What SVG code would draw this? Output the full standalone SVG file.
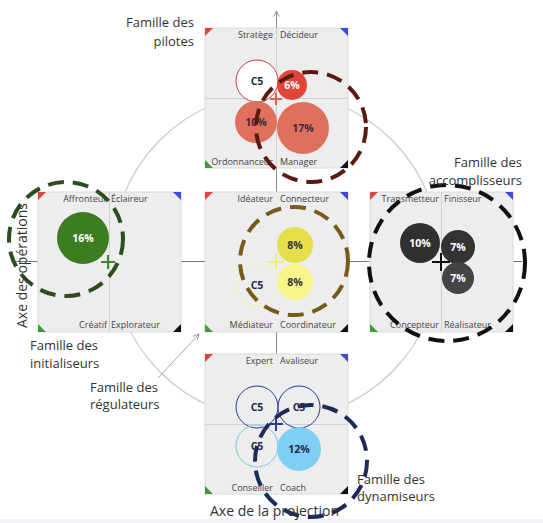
<svg xmlns="http://www.w3.org/2000/svg" width="543" height="523" viewBox="0 0 543 523">
<defs>
<style>
.pnl{fill:#ededed;stroke:#dadada;stroke-width:1}
.cl{stroke:#d0d0d0;stroke-width:1}
.lb{font-family:"Open Sans","Liberation Sans",sans-serif;font-size:9px;fill:#444}
.lr{text-anchor:end}
.fam{font-family:"Open Sans","Liberation Sans",sans-serif;font-size:13px;fill:#333}
.ax{font-family:"Open Sans","Liberation Sans",sans-serif;font-size:14px;fill:#333}
.pc{font-family:"Open Sans","Liberation Sans",sans-serif;font-size:10.5px;font-weight:bold;text-anchor:middle}
.dash{fill:none;stroke-width:4;stroke-dasharray:16 9}
.tr{fill:#d9463a}.tb{fill:#3a4bd6}.tg{fill:#3e9a3a}.tk{fill:#111}
</style>
<marker id="arr" viewBox="0 0 10 10" refX="9" refY="5" markerWidth="7" markerHeight="7" orient="auto-start-reverse" markerUnits="userSpaceOnUse">
<path d="M1,1 L9,5 L1,9" fill="none" stroke="#888" stroke-width="1.2"/>
</marker>
</defs>
<rect x="0" y="519" width="543" height="4" fill="#f0f2f5"/>
<circle cx="276" cy="256" r="164" fill="none" stroke="#c8c8c8" stroke-width="1.2"/>

<g id="connectors">
<line x1="276.5" y1="495" x2="276.5" y2="11" stroke="#888" stroke-width="1" marker-end="url(#arr)"/>
<line x1="12" y1="261.5" x2="522" y2="261.5" stroke="#777" stroke-width="1"/>
<line x1="158" y1="378" x2="199" y2="334" stroke="#aaa" stroke-width="1" marker-end="url(#arr)"/>
</g>

<g id="panel-top">
<rect class="pnl" x="205" y="28" width="143" height="140"/>
<line class="cl" x1="276.5" y1="28" x2="276.5" y2="168"/>
<line class="cl" x1="205" y1="98.5" x2="348" y2="98.5"/>
<path class="tr" d="M205,28h8l-8,8z"/><path class="tb" d="M348,28h-8l8,8z"/><path class="tg" d="M205,168h8l-8,-8z"/><path class="tk" d="M348,168h-8l8,-8z"/>
<text class="lb lr" x="273" y="38">Stratège</text><text class="lb" x="280" y="38">Décideur</text>
<text class="lb lr" x="273" y="165">Ordonnanceur</text><text class="lb" x="280" y="165">Manager</text>
<circle cx="257" cy="81" r="21" fill="#fff" stroke="#c9404a" stroke-width="1"/>
<text class="pc" x="257" y="85" fill="#1e2a4a">C5</text>
<circle cx="292" cy="85" r="15" fill="#e2443a"/>
<text class="pc" x="292" y="89" fill="#fff">6%</text>
<circle cx="256" cy="122" r="21" fill="#e06f5c"/>
<text class="pc" x="256" y="126" fill="#3a2a3a">10%</text>
<circle cx="303" cy="128" r="26" fill="#e06f5c"/>
<text class="pc" x="303" y="132" fill="#3a2a3a">17%</text>
<path d="M270,99h12M276,93v12" stroke="#e06050" stroke-width="2"/>
</g>

<g id="panel-left">
<rect class="pnl" x="38" y="192" width="143" height="140"/>
<line class="cl" x1="109.5" y1="192" x2="109.5" y2="332"/>
<path class="tr" d="M38,192h8l-8,8z"/><path class="tb" d="M181,192h-8l8,8z"/><path class="tg" d="M38,332h8l-8,-8z"/><path class="tk" d="M181,332h-8l8,-8z"/>
<text class="lb lr" x="107" y="202">Affronteur</text><text class="lb" x="111" y="202">Éclaireur</text>
<text class="lb lr" x="107" y="328">Créatif</text><text class="lb" x="111" y="328">Explorateur</text>
<circle cx="83" cy="238" r="26" fill="#3d7d22"/>
<text class="pc" x="83" y="242" fill="#fff">16%</text>
<path d="M101,262h14M108,255v14" stroke="#3d8a2a" stroke-width="2"/>
</g>

<g id="panel-center">
<rect class="pnl" x="205" y="192" width="143" height="140"/>
<path class="tr" d="M205,192h8l-8,8z"/><path class="tb" d="M348,192h-8l8,8z"/><path class="tg" d="M205,332h8l-8,-8z"/><path class="tk" d="M348,332h-8l8,-8z"/>
<text class="lb lr" x="273" y="202">Idéateur</text><text class="lb" x="280" y="202">Connecteur</text>
<text class="lb lr" x="273" y="328">Médiateur</text><text class="lb" x="280" y="328">Coordinateur</text>
<circle cx="257" cy="285" r="21" fill="none" stroke="#f6f3b4" stroke-width="1"/>
<text class="pc" x="257" y="289" fill="#1e2a4a">C5</text>
<circle cx="295" cy="245" r="18" fill="#e6df4b"/>
<text class="pc" x="295" y="249" fill="#333">8%</text>
<circle cx="295" cy="282" r="18" fill="#f7f48a"/>
<text class="pc" x="295" y="286" fill="#333">8%</text>
<path d="M268,262h16M276,254v16" stroke="#f2ee70" stroke-width="2"/>
</g>

<g id="panel-right">
<rect class="pnl" x="370" y="192" width="143" height="140"/>
<line class="cl" x1="441.5" y1="192" x2="441.5" y2="332"/>
<path class="tr" d="M370,192h8l-8,8z"/><path class="tb" d="M513,192h-8l8,8z"/><path class="tg" d="M370,332h8l-8,-8z"/><path class="tk" d="M513,332h-8l8,-8z"/>
<text class="lb lr" x="439" y="202">Transmetteur</text><text class="lb" x="444" y="202">Finisseur</text>
<text class="lb lr" x="439" y="328">Concepteur</text><text class="lb" x="444" y="328">Réalisateur</text>
<circle cx="420" cy="243" r="20" fill="#303030"/>
<text class="pc" x="420" y="247" fill="#fff">10%</text>
<circle cx="458" cy="247" r="17" fill="#333"/>
<text class="pc" x="458" y="251" fill="#fff">7%</text>
<circle cx="458" cy="278" r="16" fill="#444"/>
<text class="pc" x="458" y="282" fill="#fff">7%</text>
<path d="M432,262h18M441,253v18" stroke="#111" stroke-width="2"/>
</g>

<g id="panel-bottom">
<rect class="pnl" x="205" y="354" width="143" height="140"/>
<line class="cl" x1="205" y1="424.5" x2="348" y2="424.5"/>
<path class="tr" d="M205,354h8l-8,8z"/><path class="tb" d="M348,354h-8l8,8z"/><path class="tg" d="M205,494h8l-8,-8z"/><path class="tk" d="M348,494h-8l8,-8z"/>
<text class="lb lr" x="273" y="364">Expert</text><text class="lb" x="280" y="364">Avaliseur</text>
<text class="lb lr" x="273" y="491">Conseiller</text><text class="lb" x="280" y="491">Coach</text>
<circle cx="257" cy="407" r="21" fill="none" stroke="#2a3a9a" stroke-width="1"/>
<text class="pc" x="257" y="411" fill="#1e2a4a">C5</text>
<circle cx="299" cy="407" r="21" fill="none" stroke="#2a3a9a" stroke-width="1"/>
<text class="pc" x="299" y="411" fill="#1e2a4a">C5</text>
<circle cx="257" cy="446" r="21" fill="none" stroke="#7cc8e0" stroke-width="1"/>
<text class="pc" x="257" y="450" fill="#1e2a4a">C5</text>
<circle cx="299" cy="449" r="22" fill="#7fcff5"/>
<text class="pc" x="299" y="453" fill="#1e2a4a">12%</text>
<path d="M269,424h14M276,417v14" stroke="#2a3a9a" stroke-width="2"/>
</g>

<g id="families">
<circle class="dash" cx="311" cy="127" r="55" stroke="#5a1a10"/>
<circle class="dash" cx="66" cy="239" r="57" stroke="#2d4d1d"/>
<circle class="dash" cx="294" cy="261" r="54" stroke="#7a5a1a"/>
<circle class="dash" cx="447" cy="263" r="78" stroke="#111"/>
<circle class="dash" cx="311" cy="461" r="56" stroke="#1e2a5a"/>
</g>

<g id="labels">
<text class="fam" x="194" y="27" text-anchor="end">Famille des</text>
<text class="fam" x="194" y="46" text-anchor="end">pilotes</text>
<text class="fam" x="522" y="167" text-anchor="end">Famille des</text>
<text class="fam" x="522" y="185" text-anchor="end">accomplisseurs</text>
<text class="fam" x="30" y="350">Famille des</text>
<text class="fam" x="30" y="368">initialiseurs</text>
<text class="fam" x="90" y="392">Famille des</text>
<text class="fam" x="90" y="409">régulateurs</text>
<text class="fam" x="357" y="484">Famille des</text>
<text class="fam" x="357" y="501">dynamiseurs</text>
<text class="ax" x="210" y="516">Axe de la projection</text>
<text class="ax" transform="translate(27,328) rotate(-90)">Axe des opérations</text>
</g>
</svg>
